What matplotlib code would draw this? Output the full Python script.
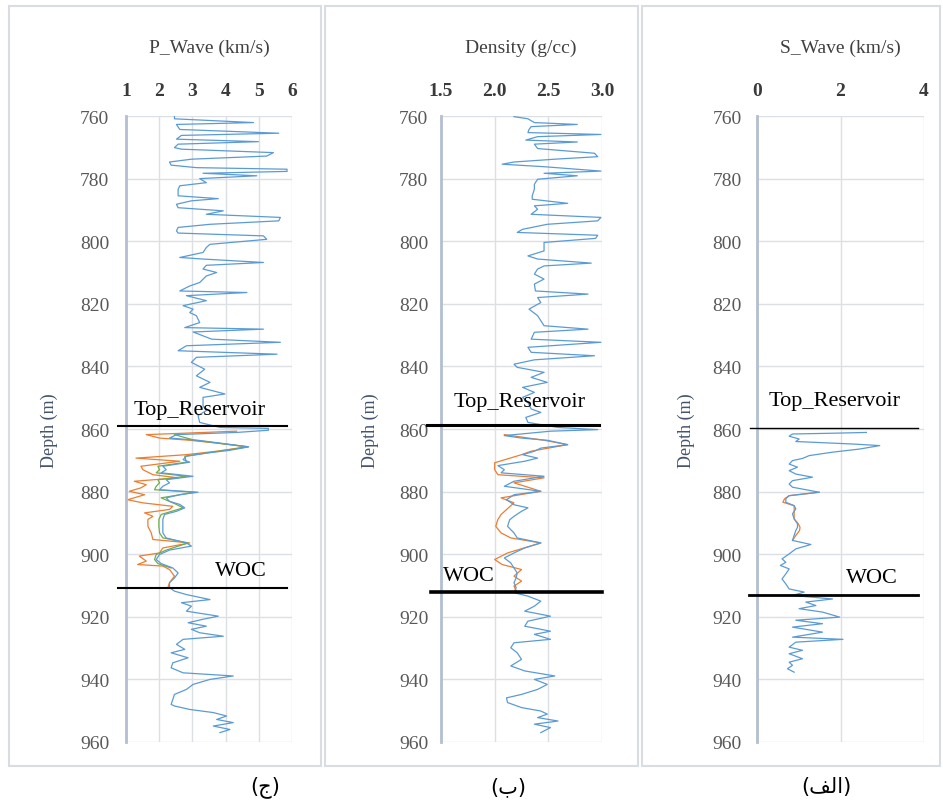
import matplotlib
matplotlib.use("Agg")
import matplotlib.pyplot as plt
from matplotlib.patches import Rectangle

# ---- P-wave log (km/s) ----
vp_depth = [760.0, 760.9, 762.1, 762.7, 764.3, 765.5, 766.2, 767.4, 768.2, 769.0, 770.1, 770.6,
            771.7, 772.8, 773.8, 774.7, 775.7, 776.5, 777.0, 777.7, 778.3, 779.1, 780.0, 781.3,
            782.3, 783.4, 785.5, 786.4, 787.1, 788.2, 789.3, 790.3, 791.4, 792.4, 793.5, 794.6,
            795.6, 796.7, 797.4, 798.3, 799.4, 801.0, 802.0, 803.6, 805.2, 805.7, 806.8, 807.7,
            808.9, 810.0, 811.1, 813.2, 814.3, 815.9, 816.4, 817.4, 819.0, 820.6, 821.7, 822.8,
            823.8, 826.0, 827.6, 828.1, 829.0, 831.3, 832.3, 833.4, 835.0, 836.1, 837.1, 838.7,
            840.9, 843.0, 845.1, 846.7, 848.8, 849.9, 852.6, 854.1, 855.7, 857.9, 859.5, 859.8,
            860.4, 861.1, 861.8, 862.9, 863.6, 864.5, 865.7, 866.8, 867.7, 868.7, 869.8, 870.6,
            871.9, 873.0, 874.0, 875.1, 876.2, 877.2, 878.3, 879.4, 880.2, 881.0, 882.0, 883.1,
            884.1, 885.2, 886.3, 887.3, 888.9, 891.1, 893.2, 894.8, 896.4, 897.4, 898.7, 900.1,
            901.7, 903.0, 904.4, 906.0, 907.6, 909.1, 910.7, 911.8, 912.9, 914.5, 915.5, 916.6,
            918.2, 919.8, 920.9, 921.9, 923.0, 924.0, 925.1, 926.2, 927.2, 928.8, 930.4, 931.5,
            933.1, 934.7, 936.3, 937.9, 938.9, 940.0, 941.6, 943.2, 944.8, 946.4, 948.0, 948.5,
            949.6, 950.6, 951.7, 952.8, 953.8, 954.9, 956.0, 957.0]
vp_blue = [2.46, 2.46, 4.84, 2.52, 2.62, 5.60, 2.67, 2.52, 4.99, 2.57, 2.46, 2.67,
           5.44, 5.24, 2.97, 2.31, 2.36, 3.12, 5.85, 5.85, 3.32, 4.94, 3.22, 3.42,
           2.62, 2.57, 2.57, 3.78, 2.97, 2.52, 2.57, 3.93, 3.42, 5.65, 5.60, 3.53,
           2.57, 2.52, 2.57, 5.14, 5.24, 3.53, 3.42, 3.32, 2.62, 3.32, 5.14, 3.42,
           3.32, 3.73, 3.42, 3.22, 2.92, 2.62, 4.64, 2.82, 3.42, 2.72, 3.02, 2.92,
           3.12, 3.22, 2.77, 5.14, 3.02, 3.58, 5.65, 2.82, 2.57, 5.55, 3.12, 2.97,
           3.37, 3.12, 3.53, 3.22, 3.98, 3.32, 3.32, 3.42, 3.17, 3.22, 3.83, 5.29,
           5.29, 4.33, 2.52, 2.31, 3.17, 3.83, 4.69, 4.13, 3.42, 2.82, 2.72, 2.92,
           2.11, 2.21, 2.06, 3.02, 2.21, 2.31, 2.11, 2.01, 3.17, 2.62, 2.21, 2.31,
           2.62, 2.77, 2.52, 2.16, 2.11, 2.11, 2.11, 2.21, 2.82, 2.97, 2.31, 2.01,
           1.91, 2.06, 2.41, 2.57, 2.46, 2.31, 2.31, 2.46, 2.82, 3.53, 2.67, 2.97,
           2.82, 3.78, 3.27, 2.87, 3.42, 2.97, 3.22, 3.93, 2.72, 2.52, 2.77, 2.36,
           2.87, 2.41, 2.36, 2.72, 4.23, 3.53, 3.02, 2.82, 2.46, 2.41, 2.36, 2.46,
           2.92, 3.63, 4.03, 3.73, 4.23, 3.63, 4.13, 3.83]

vp_sub_depth = [860.7, 861.8, 862.9, 863.6, 864.5, 865.7, 867.1, 868.2, 869.3, 870.3, 871.9,
                873.0, 874.6, 875.6, 876.7, 877.8, 878.8, 879.9, 881.0, 882.6, 883.6, 884.7,
                885.7, 886.8, 887.9, 888.9, 891.1, 893.2, 895.3, 896.4, 898.0, 899.6, 900.6,
                902.2, 903.3, 903.8, 904.9, 907.0, 909.1, 910.7]
vp_orange = [4.33, 1.61, 2.01, 2.92, 3.73, 4.64, 3.73, 2.82, 1.30, 2.62, 1.45,
             1.51, 1.81, 2.57, 1.25, 1.61, 1.45, 1.10, 1.56, 1.05, 1.51, 2.41,
             2.31, 1.56, 1.81, 1.66, 1.66, 1.76, 1.81, 2.92, 2.11, 2.01, 1.40,
             1.61, 1.35, 2.11, 2.31, 2.46, 2.31, 2.26]

vp_mix_depth = [861.8, 863.6, 865.7, 868.7, 870.6, 871.9, 873.0, 874.0, 875.1, 876.2, 877.2,
                878.3, 879.4, 880.2, 882.0, 884.1, 885.2, 887.3, 888.9, 891.1, 893.2, 894.8,
                896.4, 898.7, 900.1, 901.7, 903.0, 904.4]
vp_green = [2.46, 3.07, 4.69, 2.77, 2.82, 1.96, 2.01, 1.91, 2.82, 1.96, 2.01,
            1.91, 1.86, 3.07, 2.06, 2.52, 2.72, 2.06, 1.99, 1.99, 2.01, 2.11,
            2.87, 2.21, 1.91, 1.86, 1.96, 2.36]

# ---- Density log (g/cc) ----
rho_depth = [760.2, 760.9, 762.1, 762.7, 763.4, 764.3, 765.3, 765.9, 766.6, 767.7, 768.3, 769.0,
             770.4, 771.9, 773.0, 773.8, 774.7, 775.4, 776.2, 777.6, 778.3, 779.1, 780.2, 781.8,
             783.4, 785.5, 786.6, 787.9, 788.7, 789.8, 791.4, 792.4, 793.5, 794.6, 796.2, 797.2,
             798.1, 799.1, 800.4, 801.5, 803.1, 804.7, 805.7, 807.0, 807.9, 808.9, 810.5, 812.1,
             813.7, 815.9, 816.9, 818.0, 819.6, 821.7, 823.8, 825.4, 827.0, 828.1, 829.1, 831.3,
             832.3, 833.9, 835.5, 836.6, 837.9, 839.3, 840.3, 841.9, 843.5, 845.1, 846.7, 848.3,
             849.9, 851.5, 853.6, 854.7, 856.3, 857.9, 859.5, 860.2,
             860.7, 862.1, 862.9, 863.6, 865.0, 866.1, 867.1, 868.2, 869.3, 870.3, 871.7, 873.0,
             874.0, 875.1, 876.7, 878.3, 879.9, 881.0, 882.6, 884.2, 885.2, 886.3, 887.9, 889.0,
             891.1, 893.2, 894.8, 896.4, 898.0, 899.6, 901.2, 902.8, 904.4, 906.0, 907.6, 909.1,
             910.7, 912.3, 913.4, 915.0, 916.6, 918.2, 919.8, 921.4, 923.0, 924.6, 925.6, 927.2,
             928.3, 929.9, 931.5, 933.6, 935.7, 937.3, 938.9, 940.0, 941.6, 943.2, 944.8, 945.9,
             947.4, 949.0, 950.1, 951.1, 952.2, 953.3, 954.3, 955.4, 957.0]
rho_blue = [2.18, 2.31, 2.37, 2.77, 2.34, 2.32, 2.31, 2.99, 2.40, 2.29, 2.77, 2.37,
            2.40, 2.93, 2.96, 2.56, 2.18, 2.07, 2.46, 2.99, 2.46, 2.77, 2.40, 2.37,
            2.37, 2.35, 2.35, 2.68, 2.37, 2.40, 2.34, 2.99, 2.96, 2.49, 2.26, 2.21,
            2.96, 2.94, 2.46, 2.46, 2.46, 2.31, 2.40, 2.90, 2.46, 2.40, 2.37, 2.46,
            2.37, 2.38, 2.87, 2.40, 2.43, 2.32, 2.40, 2.43, 2.46, 2.87, 2.37, 2.34,
            2.99, 2.31, 2.34, 2.93, 2.37, 2.18, 2.21, 2.46, 2.34, 2.49, 2.26, 2.37,
            2.26, 2.31, 2.34, 2.43, 2.29, 2.31, 2.59, 2.96,
            2.52, 2.09, 2.25, 2.49, 2.68, 2.43, 2.37, 2.26, 2.40, 2.28, 2.03, 2.09,
            2.06, 2.46, 2.18, 2.09, 2.43, 2.18, 2.11, 2.18, 2.31, 2.25, 2.18, 2.14,
            2.12, 2.18, 2.21, 2.43, 2.28, 2.18, 2.09, 2.15, 2.18, 2.21, 2.20, 2.18,
            2.20, 2.18, 2.31, 2.43, 2.37, 2.28, 2.52, 2.31, 2.28, 2.52, 2.37, 2.52,
            2.18, 2.15, 2.21, 2.25, 2.15, 2.28, 2.56, 2.37, 2.49, 2.40, 2.25, 2.11,
            2.12, 2.25, 2.43, 2.49, 2.40, 2.59, 2.37, 2.52, 2.43]

rho_sub_depth = [861.8, 863.6, 865.0, 867.1, 868.2, 870.8, 873.0, 874.6, 875.6, 877.2, 879.9,
                 882.0, 883.6, 887.3, 888.9, 891.1, 893.2, 894.8, 896.4, 899.6, 901.7, 903.3,
                 904.9, 907.0, 908.6, 910.2, 912.3]
rho_orange = [2.09, 2.46, 2.68, 2.34, 2.25, 2.00, 2.00, 2.03, 2.46, 2.18, 2.43,
              2.06, 2.18, 2.06, 2.03, 2.01, 2.06, 2.15, 2.43, 2.12, 2.00, 2.07,
              2.25, 2.18, 2.25, 2.18, 2.21]

# ---- S-wave log (km/s) ----
vs_depth = [861.1, 861.3, 861.6, 862.3, 863.2, 864.0, 864.8, 865.3, 866.4, 867.4, 868.5, 869.4,
            870.1, 871.2, 872.2, 873.3, 874.4, 875.4, 876.5, 877.6, 878.6, 880.2, 881.3, 882.3,
            883.4, 884.5, 885.5, 887.1, 888.7, 890.3, 891.4, 892.4, 894.0, 895.6, 896.9, 898.3,
            899.9, 901.5, 902.6, 903.6, 904.7, 906.3, 907.9, 909.5, 911.1, 912.1, 913.2, 914.3,
            915.3, 916.4, 917.4, 918.5, 920.1, 921.1, 922.2, 923.3, 924.9, 926.5, 927.2, 928.1,
            929.7, 930.7, 931.8, 933.4, 934.5, 935.5, 936.6, 937.7]
vs_blue = [2.62, 1.98, 0.85, 0.77, 1.01, 0.93, 2.30, 2.94, 2.46, 1.81, 1.25, 1.09,
           0.85, 0.77, 0.97, 0.77, 0.93, 1.33, 0.85, 0.77, 0.85, 1.49, 0.77, 0.69,
           0.69, 0.89, 0.93, 0.85, 0.89, 0.97, 0.97, 0.93, 0.89, 0.85, 1.29, 0.93,
           0.77, 0.60, 0.69, 0.56, 0.77, 0.69, 0.60, 0.69, 0.77, 1.13, 0.85, 1.81,
           1.17, 1.41, 1.01, 1.57, 1.98, 0.93, 1.57, 0.85, 1.57, 0.85, 2.06, 0.93,
           0.77, 1.09, 0.77, 1.09, 0.77, 0.85, 0.73, 0.89]

vs_sub_depth = [880.2, 881.3, 882.3, 883.4, 884.5, 888.7, 890.3, 891.4, 892.4, 894.0, 895.6]
vs_orange = [1.49, 0.77, 0.66, 0.62, 0.89, 0.89, 0.99, 1.03, 1.02, 0.93, 0.85]

# marker depths (m)
top_res = [859.0, 858.6, 859.6]
woc = [910.8, 912.2, 912.9]

W, H = 943, 803
BLUE, ORANGE, GREEN = "#5b9bd5", "#ed7d31", "#70ad47"
SERIF = "Liberation Serif"


def fx(px):
    return px / W


def fy(py):
    return 1 - py / H


fig = plt.figure(figsize=(W / 100, H / 100), dpi=100)
fig.patch.set_facecolor("white")

# panel frames
for x0, x1 in [(9, 321), (325, 638), (642, 940)]:
    fig.patches.append(Rectangle((fx(x0), fy(767)), fx(x1) - fx(x0), fy(7) - fy(767),
                                 transform=fig.transFigure, fill=False,
                                 edgecolor="#d9dce1", linewidth=1.5))


def track(left, right, xlim, xticks, xlabels, title, title_x, depth_x, ypad):
    ax = fig.add_axes([fx(left), fy(743), fx(right) - fx(left), fy(117) - fy(743)])
    ax.set_xlim(*xlim)
    ax.set_ylim(960, 760)
    ax.set_xticks(xticks)
    ax.set_xticklabels(xlabels)
    ax.set_yticks(range(760, 961, 20))
    ax.xaxis.tick_top()
    ax.tick_params(axis="x", length=0, pad=12, labelsize=14, labelcolor="#3a3a3a")
    ax.tick_params(axis="y", length=0, pad=ypad, labelsize=14, labelcolor="#595959")
    for lab in ax.get_xticklabels():
        lab.set_fontfamily(SERIF)
        lab.set_fontweight("bold")
    for lab in ax.get_yticklabels():
        lab.set_fontfamily(SERIF)
    ax.grid(True, color="#dcdfe4", linewidth=1.0)
    ax.set_axisbelow(True)
    for s in ("top", "right", "bottom"):
        ax.spines[s].set_visible(False)
    ax.spines["left"].set_color("#b3bfd0")
    ax.spines["left"].set_linewidth(2.0)
    fig.text(fx(title_x), fy(48), title, ha="center", va="center",
             fontsize=14, family=SERIF, color="#404040")
    fig.text(fx(depth_x), fy(431), "Depth (m)", ha="center", va="center",
             rotation=90, fontsize=13, family=SERIF, color="#44546a")
    return ax


def marker(ax, x0, x1, depth, lw, label, lab_x, lab_y):
    ax.plot([x0, x1], [depth, depth], color="black", linewidth=lw, clip_on=False, zorder=5)
    fig.text(fx(lab_x), fy(lab_y), label, ha="center", va="center",
             fontsize=16, family=SERIF, color="black")


# P-wave
ax1 = track(126, 292, (1, 6), [1, 2, 3, 4, 5, 6], ["1", "2", "3", "4", "5", "6"],
            "P_Wave (km/s)", 209, 49, 12)
ax1.plot(vp_orange, vp_sub_depth, color=ORANGE, lw=0.9)
ax1.plot(vp_green, vp_mix_depth, color=GREEN, lw=0.9)
ax1.plot(vp_blue, vp_depth, color=BLUE, lw=0.9)
marker(ax1, 0.76, 5.85, top_res[0], 1.5, "Top_Reservoir", 200, 410)
marker(ax1, 0.76, 5.85, woc[0], 1.5, "WOC", 241, 572)

# Density
ax2 = track(441, 602, (1.5, 3.0), [1.5, 2.0, 2.5, 3.0], ["1.5", "2.0", "2.5", "3.0"],
            "Density (g/cc)", 521, 370, 9)
ax2.plot(rho_orange, rho_sub_depth, color=ORANGE, lw=0.9)
ax2.plot(rho_blue, rho_depth, color=BLUE, lw=0.9)
marker(ax2, 1.37, 2.97, top_res[1], 2.2, "Top_Reservoir", 520, 403)
marker(ax2, 1.41, 3.0, woc[1], 2.6, "WOC", 469, 577)

# S-wave
ax3 = track(757, 924, (0, 4), [0, 2, 4], ["0", "2", "4"],
            "S_Wave (km/s)", 840, 686, 11)
ax3.plot(vs_orange, vs_sub_depth, color=ORANGE, lw=0.9)
ax3.plot(vs_blue, vs_depth, color=BLUE, lw=0.9)
marker(ax3, -0.17, 3.86, top_res[2], 1.0, "Top_Reservoir", 835, 402)
marker(ax3, -0.19, 3.85, woc[2], 2.0, "WOC", 872, 579)

# captions under the panels
for txt, px in [("(ج)", 265), ("(ب)", 508), ("(\ufed2\ufedf\u0627)", 826)]:
    fig.text(fx(px), fy(787), txt, ha="center", va="center", fontsize=15,
             family=["DejaVu Sans"], color="black")

fig.savefig("out.png", dpi=100)
